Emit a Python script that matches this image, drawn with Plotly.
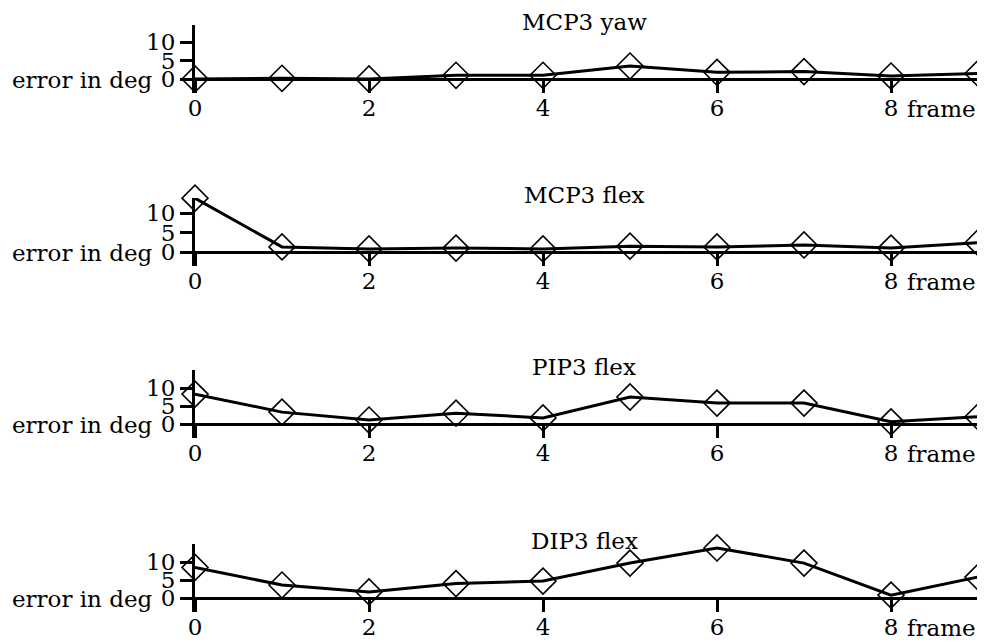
import plotly.graph_objects as go

# ---- data ----
frames = [0, 1, 2, 3, 4, 5, 6, 7, 8, 9]
titles = ["MCP3 yaw", "MCP3 flex", "PIP3 flex", "DIP3 flex"]
mcp3_yaw = [0.0, 0.2, 0.0, 1.0, 1.0, 3.5, 1.8, 2.0, 0.8, 1.5]
mcp3_flex = [13.8, 1.3, 0.8, 1.0, 0.8, 1.5, 1.3, 1.8, 1.0, 2.4]
pip3_flex = [8.3, 3.3, 1.1, 3.0, 1.7, 7.5, 5.8, 5.8, 0.6, 2.0]
dip3_flex = [8.5, 3.6, 1.7, 4.0, 4.7, 9.7, 13.9, 9.7, 0.8, 5.8]
series = [mcp3_yaw, mcp3_flex, pip3_flex, dip3_flex]
y_ticks = [0, 5, 10]
x_ticks = [0, 2, 4, 6, 8]
x_ticklabels = ["0", "2", "4", "6", "8"]
x_label = "frame"
y_label = "error in deg"

# ---- layout (pixels, in window coordinates) ----
W, H = 985, 642
OFF = 8  # page body margin

def px(v):
    return (v - OFF) / W

def py(v):
    return 1 - (v - OFF) / H

X0_PX, X9_PX = 195, 978
zero_px = [79, 252, 424, 598]
ppu = [3.7, 3.9, 3.6, 3.6]
FONT = "DejaVu Serif"
FS = 23

fig = go.Figure()
annotations = []
for i, (vals, title) in enumerate(zip(series, titles)):
    n = "" if i == 0 else str(i + 1)
    z = zero_px[i]
    top, bot = z - 54, z + 14
    y_max = (z - top) / ppu[i]
    y_min = -(bot - z) / ppu[i]
    fig.add_trace(go.Scatter(
        x=frames, y=vals, mode="lines+markers",
        line=dict(color="black", width=3),
        marker=dict(symbol="diamond-open", size=20, color="black",
                    line=dict(width=1.6, color="black")),
        cliponaxis=False, showlegend=False,
        xaxis="x" + n, yaxis="y" + n,
    ))
    fig.update_layout(**{
        "xaxis" + n: dict(
            domain=[px(X0_PX), px(X9_PX)], range=[0, 9],
            anchor="free", position=py(z), automargin=False,
            showline=True, linewidth=3, linecolor="black",
            showgrid=False, zeroline=False,
            ticks="outside", ticklen=12, tickwidth=3, tickcolor="black",
            tickvals=x_ticks, ticktext=x_ticklabels,
            tickfont=dict(family=FONT, size=FS, color="black"),
            ticklabelstandoff=-5,
        ),
        "yaxis" + n: dict(
            domain=[py(bot), py(top)], range=[y_min, y_max],
            anchor="x" + n, automargin=False,
            showline=True, linewidth=3, linecolor="black",
            showgrid=False, zeroline=False,
            ticks="outside", ticklen=12, tickwidth=3, tickcolor="black",
            tickvals=y_ticks,
            tickfont=dict(family=FONT, size=FS, color="black"),
            ticklabelstandoff=0,
        ),
    })
    annotations.append(dict(
        text=title, xref="paper", yref="paper",
        x=px(584), y=py(z - 57), xanchor="center", yanchor="middle",
        showarrow=False, font=dict(family=FONT, size=FS, color="black"),
    ))
    annotations.append(dict(
        text=y_label, xref="paper", yref="paper",
        x=px(155), y=py(z + 1), xanchor="right", yanchor="middle",
        showarrow=False, font=dict(family=FONT, size=FS, color="black"),
    ))
    annotations.append(dict(
        text=x_label, xref="paper", yref="paper",
        x=px(905), y=py(z + 30), xanchor="left", yanchor="middle",
        showarrow=False, font=dict(family=FONT, size=FS, color="black"),
    ))

fig.update_layout(
    template="none",
    width=W, height=H, autosize=False,
    margin=dict(l=0, r=0, t=0, b=0, pad=0),
    paper_bgcolor="white", plot_bgcolor="rgba(0,0,0,0)",
    annotations=annotations,
)
fig.write_html("out.html")
